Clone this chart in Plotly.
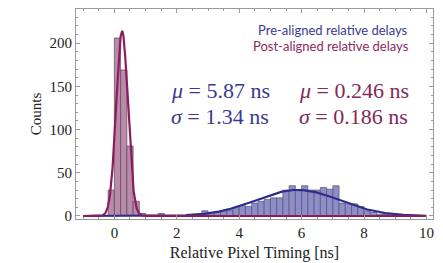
import numpy as np
import plotly.graph_objects as go

BIN = 0.2
# Post-aligned histogram (bin left edges, counts)
post_edges = [-0.2, 0.0, 0.2, 0.4, 0.6, 0.8]
post_counts = [30, 206, 169, 81, 17, 3]
# Pre-aligned histogram
pre_edges = [1.4, 2.8, 3.0, 3.2, 3.4, 3.6, 3.8, 4.0, 4.2, 4.4, 4.6, 4.8, 5.0, 5.2,
             5.4, 5.6, 5.8, 6.0, 6.2, 6.4, 6.6, 6.8, 7.0, 7.2, 7.4, 7.6, 7.8, 8.0,
             8.2, 8.4, 8.6, 8.8]
pre_counts = [3, 6, 4, 4, 5, 7, 10, 12, 11, 15, 17, 19, 21, 21,
              30, 35, 30, 35, 30, 30, 33, 31, 35, 15, 14, 14, 11, 6,
              4, 2, 2, 1]
# Gaussian fit parameters (shown on chart) and fit peak heights
pre_mu, pre_sigma, pre_peak = 5.87, 1.34, 30.2
post_mu, post_sigma, post_peak = 0.246, 0.186, 214

BLUE_LINE = "#2d2d8c"
RED_LINE = "#8b1d5d"
BLUE_FILL = "#8d8dca"
RED_FILL = "#b98aa9"

xfit = np.linspace(-1.0, 10.0, 1200)
pre_fit = pre_peak * np.exp(-0.5 * ((xfit - pre_mu) / pre_sigma) ** 2)
post_fit = post_peak * np.exp(-0.5 * ((xfit - post_mu) / post_sigma) ** 2)

fig = go.Figure()
fig.add_trace(go.Bar(x=[e + BIN / 2 for e in pre_edges], y=pre_counts, width=BIN,
                     marker=dict(color=BLUE_FILL, line=dict(color="#55556a", width=0.7)),
                     showlegend=False))
fig.add_trace(go.Bar(x=[e + BIN / 2 for e in post_edges], y=post_counts, width=BIN,
                     marker=dict(color=RED_FILL, line=dict(color="#5a4a55", width=0.7)),
                     showlegend=False))
fig.add_trace(go.Scatter(x=xfit, y=pre_fit, mode="lines",
                         line=dict(color=BLUE_LINE, width=2.2), showlegend=False))
fig.add_trace(go.Scatter(x=xfit, y=post_fit, mode="lines",
                         line=dict(color=RED_LINE, width=2.2), showlegend=False))

serif = "Liberation Serif"
sans = "Lato"

axis_common = dict(showline=True, linecolor="#9a9a9a", linewidth=1, mirror="allticks",
                   ticks="inside", ticklen=4, tickcolor="#9a9a9a", showgrid=False,
                   zeroline=False, tickfont=dict(family=serif, size=15, color="#222"))
fig.update_xaxes(range=[-1.23, 10.21], tickvals=[0, 2, 4, 6, 8, 10],
                 minor=dict(dtick=0.5, ticks="inside", ticklen=2, tickcolor="#9a9a9a"),
                 title=dict(text="Relative Pixel Timing [ns]",
                            font=dict(family=serif, size=16, color="#222"), standoff=6),
                 **axis_common)
fig.update_yaxes(range=[-3.5, 239.6], tickvals=[0, 50, 100, 150, 200],
                 minor=dict(dtick=10, ticks="inside", ticklen=2, tickcolor="#9a9a9a"),
                 title=dict(text="Counts", font=dict(family=serif, size=15, color="#222"),
                            standoff=4),
                 **axis_common)

# annotation positions given in screen pixels of the reference
ann = [
    dict(x=410, y=30, text="Pre-aligned relative delays", size=13, fam=sans, col="#3a3a8e", anchor="right"),
    dict(x=411, y=46, text="Post-aligned relative delays", size=13, fam=sans, col="#8b2a5e", anchor="right"),
    dict(x=169, y=91, text="<i>μ</i> = 5.87 ns", size=22, fam=serif, col="#3a3a8e", anchor="left"),
    dict(x=169, y=117, text="<i>σ</i> = 1.34 ns", size=22, fam=serif, col="#3a3a8e", anchor="left"),
    dict(x=297, y=91, text="<i>μ</i> = 0.246 ns", size=22, fam=serif, col="#7f2a5a", anchor="left"),
    dict(x=297, y=117, text="<i>σ</i> = 0.186 ns", size=22, fam=serif, col="#7f2a5a", anchor="left"),
]

OFF = 8  # default page body margin
W, H = 443 - OFF, 263 - OFF
L, R, T, B = 76 - OFF, 10, 9 - OFF, 44
pw, ph = W - L - R, H - T - B
final = []
for a in ann:
    final.append(dict(
        xref="paper", yref="paper",
        x=(a["x"] - OFF - L) / pw, y=1 - (a["y"] - OFF - T) / ph,
        text=a["text"], showarrow=False, xanchor=a["anchor"], yanchor="middle",
        font=dict(family=a["fam"], size=a["size"], color=a["col"])))

fig.update_layout(width=W, height=H, margin=dict(l=L, r=R, t=T, b=B),
                  paper_bgcolor="white", plot_bgcolor="white", barmode="overlay",
                  annotations=final, showlegend=False)
fig.write_html("out.html")
